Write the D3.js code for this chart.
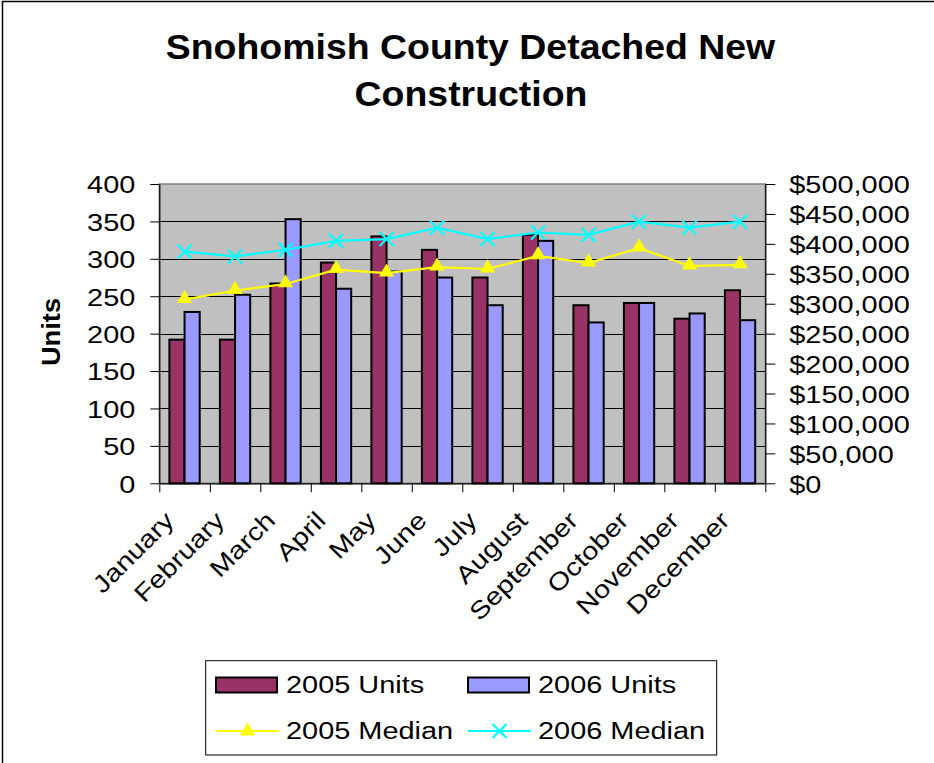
<!DOCTYPE html>
<html>
<head>
<meta charset="utf-8">
<script src="https://cdn.jsdelivr.net/npm/d3@7"></script>
<style>
	body { margin: 0; background: #fff; }
	text { font-family: "Liberation Sans", Arial, sans-serif; }
</style>
</head>
<body>
<div id="chart"></div>
<script>
// data
var months = ['January', 'February', 'March', 'April', 'May', 'June',
	'July', 'August', 'September', 'October', 'November', 'December'];
var units2005 = [192, 192, 267, 295, 330, 312, 275, 332, 238, 241, 220, 258];
var units2006 = [229, 252, 353, 260, 283, 275, 238, 324, 215, 241, 227, 218];
var median2005 = [307000, 322000, 333000, 357000, 351000, 361000, 358000, 380000, 368000, 393000, 363000, 365000];
var median2006 = [387000, 379000, 390000, 405000, 408000, 427000, 408000, 419000, 415000, 437000, 427000, 437000];
var unitTicks = [0, 50, 100, 150, 200, 250, 300, 350, 400];
var priceTicks = [0, 50000, 100000, 150000, 200000, 250000, 300000, 350000, 400000, 450000, 500000];

var W = 934, H = 763;
var plot = {left: 159.3, top: 184, width: 606, height: 299.3};
var font = 24.5, stretch = 1.18;
var col2005 = '#993366', col2006 = '#9999ff';

var svg = d3.select('#chart')
	.append('svg')
	.attr('width', W)
	.attr('height', H);

// outer chart border (right and bottom run off the picture)
svg.append('rect')
	.attr('x', 2.5).attr('y', 1.5)
	.attr('width', 1000).attr('height', 1000)
	.attr('fill', 'none')
	.attr('stroke', '#000')
	.attr('stroke-width', 1.5);

// title
var title = svg.append('g').attr('font-weight', 'bold').attr('font-size', 35);
title.append('text')
	.attr('text-anchor', 'middle')
	.attr('transform', 'translate(470.5,59) scale(1.07,1)')
	.text('Snohomish County Detached New');
title.append('text')
	.attr('text-anchor', 'middle')
	.attr('transform', 'translate(471,106) scale(1.07,1)')
	.text('Construction');

// scales
var x = d3.scaleBand()
	.domain(months)
	.range([plot.left, plot.left + plot.width]);
var xEdge = d3.scaleLinear()
	.domain([0, months.length])
	.range([plot.left, plot.left + plot.width]);
var yUnits = d3.scaleLinear()
	.domain([0, 400])
	.range([plot.top + plot.height, plot.top]);
var yPrice = d3.scaleLinear()
	.domain([0, 500000])
	.range([plot.top + plot.height, plot.top]);

// plot area
svg.append('rect')
	.attr('x', plot.left).attr('y', plot.top)
	.attr('width', plot.width).attr('height', plot.height)
	.attr('fill', '#c0c0c0')
	.attr('stroke', '#808080')
	.attr('stroke-width', 1.5);

svg.append('g')
	.selectAll('line')
	.data(unitTicks.slice(1, -1)).enter()
	.append('line')
	.attr('x1', plot.left).attr('x2', plot.left + plot.width)
	.attr('y1', function(d){ return Math.round(yUnits(d)) + 0.5; })
	.attr('y2', function(d){ return Math.round(yUnits(d)) + 0.5; })
	.attr('stroke', '#000')
	.attr('stroke-width', 1);

// bars
var bw = x.bandwidth() * 0.3;
var bars = svg.append('g')
	.attr('stroke', '#000')
	.attr('stroke-width', 2);
bars.selectAll('.b2005')
	.data(units2005).enter()
	.append('rect')
	.attr('class', 'b2005')
	.attr('x', function(d, i){ return x(months[i]) + x.bandwidth() / 2 - bw; })
	.attr('y', function(d){ return yUnits(d); })
	.attr('width', bw)
	.attr('height', function(d){ return yUnits(0) - yUnits(d); })
	.attr('fill', col2005);
bars.selectAll('.b2006')
	.data(units2006).enter()
	.append('rect')
	.attr('class', 'b2006')
	.attr('x', function(d, i){ return x(months[i]) + x.bandwidth() / 2; })
	.attr('y', function(d){ return yUnits(d); })
	.attr('width', bw)
	.attr('height', function(d){ return yUnits(0) - yUnits(d); })
	.attr('fill', col2006);

// median lines
var cx = function(d, i){ return x(months[i]) + x.bandwidth() / 2; };
var line = d3.line()
	.x(cx)
	.y(function(d){ return yPrice(d); });

svg.append('path')
	.datum(median2005)
	.attr('d', line)
	.attr('fill', 'none')
	.attr('stroke', '#ffff00')
	.attr('stroke-width', 2.2);
svg.append('path')
	.datum(median2006)
	.attr('d', line)
	.attr('fill', 'none')
	.attr('stroke', '#00ffff')
	.attr('stroke-width', 2.2);

var tri = d3.symbol().type(d3.symbolTriangle).size(100);
var cross = d3.symbol().type(d3.symbolTimes).size(130);

svg.append('g')
	.selectAll('path')
	.data(median2005).enter()
	.append('path')
	.attr('d', tri)
	.attr('transform', function(d, i){ return 'translate(' + cx(d, i) + ',' + (yPrice(d) - 1) + ')'; })
	.attr('fill', '#ffff00');
svg.append('g')
	.selectAll('path')
	.data(median2006).enter()
	.append('path')
	.attr('d', cross)
	.attr('transform', function(d, i){ return 'translate(' + cx(d, i) + ',' + yPrice(d) + ')'; })
	.attr('fill', 'none')
	.attr('stroke', '#00ffff')
	.attr('stroke-width', 2.2);

// axes
function styleAxis(g, dx, anchor){
	g.attr('font-size', font)
		.attr('font-family', '"Liberation Sans", Arial, sans-serif');
	g.selectAll('.tick line').attr('stroke', '#000');
	g.select('.domain').attr('stroke', '#000').attr('stroke-width', 1.2);
	g.selectAll('.tick text')
		.attr('x', null)
		.attr('dy', '0.36em')
		.attr('fill', '#000')
		.attr('text-anchor', anchor)
		.attr('transform', 'translate(' + dx + ',0) scale(' + stretch + ',1)');
}

var leftAxis = svg.append('g')
	.attr('transform', 'translate(' + plot.left + ',0)')
	.call(d3.axisLeft(yUnits).tickValues(unitTicks).tickSize(9).tickSizeOuter(0));
styleAxis(leftAxis, -24, 'end');

var rightAxis = svg.append('g')
	.attr('transform', 'translate(' + (plot.left + plot.width) + ',0)')
	.call(d3.axisRight(yPrice).tickValues(priceTicks).tickSize(10).tickSizeOuter(0)
		.tickFormat(function(d){ return '$' + d3.format(',')(d); }));
styleAxis(rightAxis, 24, 'start');

var bottomAxis = svg.append('g')
	.attr('transform', 'translate(0,' + (plot.top + plot.height) + ')')
	.call(d3.axisBottom(xEdge).tickValues(d3.range(months.length + 1)).tickSize(9).tickSizeOuter(0).tickFormat(''));
bottomAxis.selectAll('.tick line').attr('stroke', '#000');
bottomAxis.select('.domain').attr('stroke', '#000').attr('stroke-width', 1.2);

svg.append('g')
	.attr('font-size', font)
	.selectAll('text')
	.data(months).enter()
	.append('text')
	.attr('text-anchor', 'end')
	.attr('transform', function(d){
		return 'translate(' + (x(d) + x.bandwidth() / 2 - 9) + ',' + 522 + ') rotate(-45) scale(' + stretch + ',1)';
	})
	.text(function(d){ return d; });

// y axis title
svg.append('text')
	.attr('font-size', 26)
	.attr('font-weight', 'bold')
	.attr('text-anchor', 'middle')
	.attr('transform', 'translate(60,332) rotate(-90) scale(1.05,1)')
	.text('Units');

// legend
var legend = svg.append('g');
legend.append('rect')
	.attr('x', 205.7).attr('y', 660.7)
	.attr('width', 511).attr('height', 94.3)
	.attr('fill', '#fff')
	.attr('stroke', '#000')
	.attr('stroke-width', 1);

var legendItems = [
	{name: '2005 Units', kind: 'bar', color: col2005, x: 216, y: 685},
	{name: '2006 Units', kind: 'bar', color: col2006, x: 468, y: 685},
	{name: '2005 Median', kind: 'tri', color: '#ffff00', x: 216, y: 731},
	{name: '2006 Median', kind: 'cross', color: '#00ffff', x: 468, y: 731}
];
var item = legend.selectAll('.item')
	.data(legendItems).enter()
	.append('g')
	.attr('class', 'item')
	.attr('transform', function(d){ return 'translate(' + d.x + ',' + d.y + ')'; });

item.filter(function(d){ return d.kind == 'bar'; })
	.append('rect')
	.attr('x', 0).attr('y', -7.5)
	.attr('width', 61).attr('height', 15)
	.attr('fill', function(d){ return d.color; })
	.attr('stroke', '#000')
	.attr('stroke-width', 2);

var lineItems = item.filter(function(d){ return d.kind != 'bar'; });
lineItems.append('line')
	.attr('x1', 0).attr('x2', 63)
	.attr('stroke', function(d){ return d.color; })
	.attr('stroke-width', 2);
lineItems.append('path')
	.attr('d', function(d){ return d.kind == 'tri' ? tri() : cross(); })
	.attr('transform', 'translate(31.5,0)')
	.attr('fill', function(d){ return d.kind == 'tri' ? d.color : 'none'; })
	.attr('stroke', function(d){ return d.kind == 'tri' ? 'none' : d.color; })
	.attr('stroke-width', 2.2);

item.append('text')
	.attr('font-size', font)
	.attr('transform', 'translate(70,' + 8 + ') scale(' + stretch + ',1)')
	.text(function(d){ return d.name; });
</script>
</body>
</html>
